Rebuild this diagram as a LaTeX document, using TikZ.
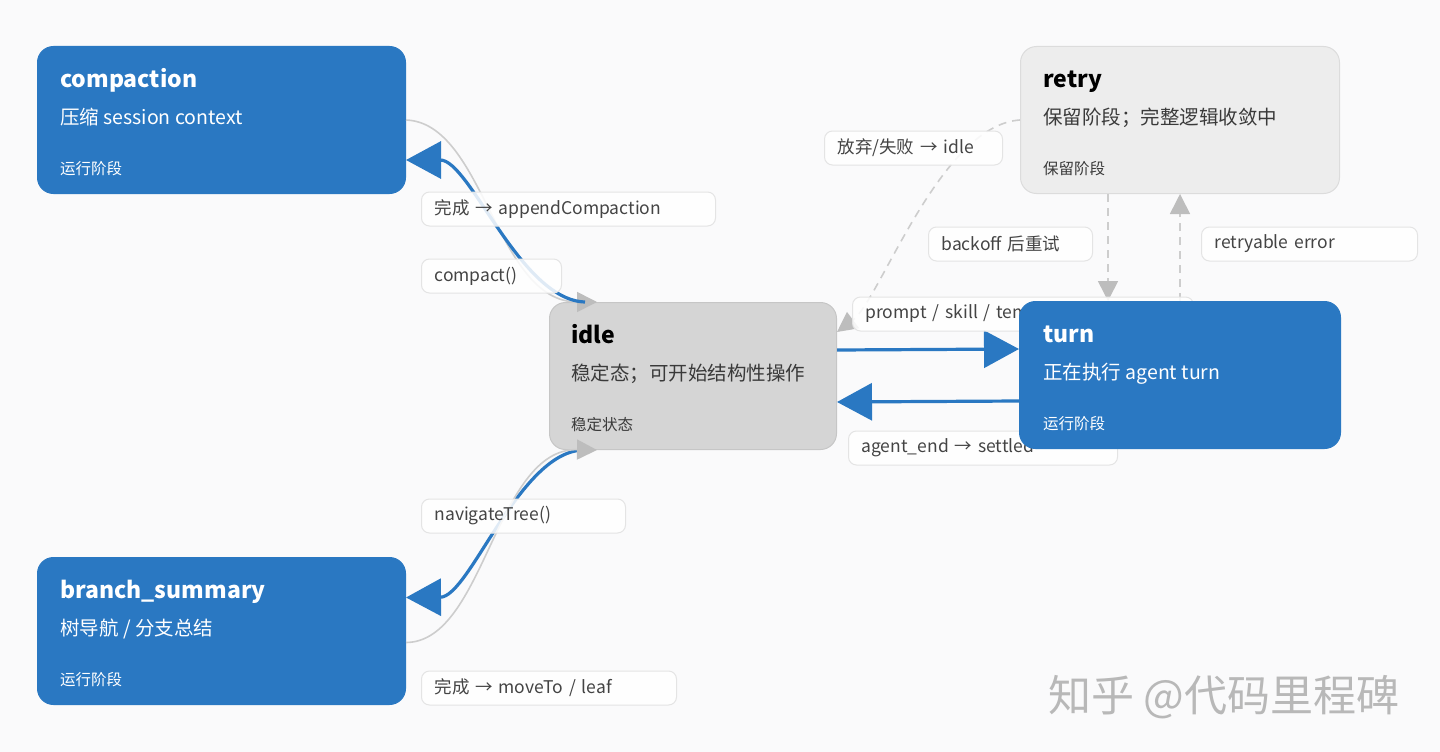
\documentclass[tikz,border=0pt]{standalone}
\usepackage{fontspec}
\setmainfont{Noto Sans CJK SC}
\usetikzlibrary{arrows.meta}
\definecolor{bl}{HTML}{2A78C2}
\definecolor{bgc}{HTML}{FAFAFB}
\definecolor{idlefill}{HTML}{D5D5D5}
\definecolor{idleborder}{HTML}{C6C6C6}
\definecolor{retryfill}{HTML}{EDEDED}
\definecolor{retryborder}{HTML}{DCDCDC}
\definecolor{lblborder}{HTML}{E4E4E4}
\definecolor{lbltext}{HTML}{444444}
\definecolor{gline}{HTML}{CDCDCD}
\definecolor{garrow}{HTML}{BDBDBD}
\definecolor{darktext}{HTML}{3A3A3A}
\definecolor{wmc}{HTML}{B8B8B8}
\pgfdeclarelayer{bg}
\pgfdeclarelayer{nodes}
\pgfdeclarelayer{edges}
\pgfdeclarelayer{labels}
\pgfsetlayers{bg,nodes,edges,labels,main}
\begin{document}
\begin{tikzpicture}[x=1pt,y=-1pt,
  box/.style={rectangle, rounded corners=16pt, inner sep=0pt, anchor=north west, minimum height=147pt, line width=1pt},
  bluebox/.style={box, fill=bl, draw=bl},
  ttl/.style={anchor=base west, font=\fontsize{23}{26}\selectfont\bfseries, inner sep=0pt},
  subt/.style={anchor=base west, font=\fontsize{19.5}{22}\selectfont, inner sep=0pt},
  ftr/.style={anchor=base west, font=\fontsize{15.5}{18}\selectfont, inner sep=0pt},
  lbl/.style={rectangle, rounded corners=8pt, fill=white, fill opacity=0.85, text opacity=1, draw=lblborder, line width=1pt, anchor=west, minimum height=34pt, inner xsep=13pt, inner ysep=0pt, align=left, font=\fontsize{17.5}{20}\selectfont, text=lbltext},
  bedge/.style={draw=bl, line width=3.2pt, -{Triangle[length=35pt,width=37pt]}},
  gedge/.style={draw=gline, line width=1.6pt, -{Triangle[length=20pt,width=20pt,fill=garrow,color=garrow]}},
  dedge/.style={gedge, dash pattern=on 8pt off 6pt}
]
\begin{pgfonlayer}{bg}
\fill[bgc] (0,0) rectangle (1440,752);
\useasboundingbox (0,0) rectangle (1440,752);
\end{pgfonlayer}

% state boxes
\begin{pgfonlayer}{nodes}
\node[bluebox, minimum width=368pt] (comp) at (37,46) {};
\node[ttl, text=white] (compT) at ([shift={(23pt,-41pt)}]comp.north west) {compaction};
\node[subt, text=white] (compS) at ([shift={(23pt,-78pt)}]comp.north west) {压缩 session context};
\node[ftr, text=white] (compF) at ([shift={(23pt,-128pt)}]comp.north west) {运行阶段};

\node[bluebox, minimum width=368pt] (branch) at (37,557) {};
\node[ttl, text=white] (branchT) at ([shift={(23pt,-41pt)}]branch.north west) {branch\_summary};
\node[subt, text=white] (branchS) at ([shift={(23pt,-78pt)}]branch.north west) {树导航 / 分支总结};
\node[ftr, text=white] (branchF) at ([shift={(23pt,-128pt)}]branch.north west) {运行阶段};

\node[box, fill=idlefill, draw=idleborder, minimum width=287pt] (idle) at (549,302) {};
\node[ttl, text=black] (idleT) at ([shift={(22pt,-41pt)}]idle.north west) {idle};
\node[subt, text=darktext] (idleS) at ([shift={(22pt,-78pt)}]idle.north west) {稳定态；可开始结构性操作};
\node[ftr, text=darktext] (idleF) at ([shift={(22pt,-128pt)}]idle.north west) {稳定状态};

\node[box, fill=retryfill, draw=retryborder, minimum width=319pt] (retry) at (1020,46) {};
\node[ttl, text=black] (retryT) at ([shift={(23pt,-41pt)}]retry.north west) {retry};
\node[subt, text=darktext] (retryS) at ([shift={(23pt,-78pt)}]retry.north west) {保留阶段；完整逻辑收敛中};
\node[ftr, text=darktext] (retryF) at ([shift={(23pt,-128pt)}]retry.north west) {保留阶段};
\end{pgfonlayer}

% turn box (topmost)
\node[bluebox, minimum width=321pt] (turn) at (1019,301) {};
\node[ttl, text=white] (turnT) at ([shift={(24pt,-41pt)}]turn.north west) {turn};
\node[subt, text=white] (turnS) at ([shift={(24pt,-78pt)}]turn.north west) {正在执行 agent turn};
\node[ftr, text=white] (turnF) at ([shift={(24pt,-128pt)}]turn.north west) {运行阶段};

% edges
\begin{pgfonlayer}{edges}
\draw[gedge] (comp.east) .. controls (485,123) and (495,302) .. ([xshift=48pt]idle.north west);
\draw[bedge] ([xshift=36pt]idle.north west) .. controls (520,300) and (470,160) .. ([yshift=-40pt]comp.east);
\draw[bedge] ([xshift=36pt]idle.south west) .. controls (520,449) and (470,597) .. ([yshift=33.5pt]branch.east);
\draw[gedge] ([yshift=-11.5pt]branch.east) .. controls (485,642) and (495,448) .. ([xshift=48pt]idle.south west);
\draw[bedge] ([yshift=26pt]idle.east) -- ([yshift=26pt]turn.west);
\draw[bedge] ([yshift=-26pt]turn.west) -- ([yshift=-26pt]idle.east);
\draw[dedge] ([xshift=-72pt]retry.south) -- ([xshift=-72pt]turn.north);
\draw[dedge] (turn.north) -- (retry.south);
\draw[dedge] (retry.west) .. controls (940,125) and (880,300) .. ([yshift=-30pt]idle.north east);
\end{pgfonlayer}

% edge labels
\begin{pgfonlayer}{labels}
\node[lbl, text width=268pt] (l1) at (421,209) {完成 → appendCompaction};
\node[lbl, text width=114pt] (l2) at (421,276) {compact()};
\node[lbl, text width=178pt] (l3) at (421,516) {navigateTree()};
\node[lbl, text width=229pt] (l4) at (421,688) {完成 → moveTo / leaf};
\node[lbl, text width=152pt] (l5) at (824,148) {放弃/失败 → idle};
\node[lbl, text width=138pt] (l6) at (928,244) {backoff 后重试};
\node[lbl, text width=190pt] (l7) at (1201,244) {retryable error};
\node[lbl, text width=315pt] (l8) at (852,314) {prompt / skill / template};
\node[lbl, text width=243pt] (l9) at (848,448) {agent\_end → settled};
\end{pgfonlayer}

% watermark
\node[anchor=base west, inner sep=0pt, font=\fontsize{43}{46}\selectfont, text=wmc] (wm) at (1048,711) {知乎 @代码里程碑};
\end{tikzpicture}
\end{document}
